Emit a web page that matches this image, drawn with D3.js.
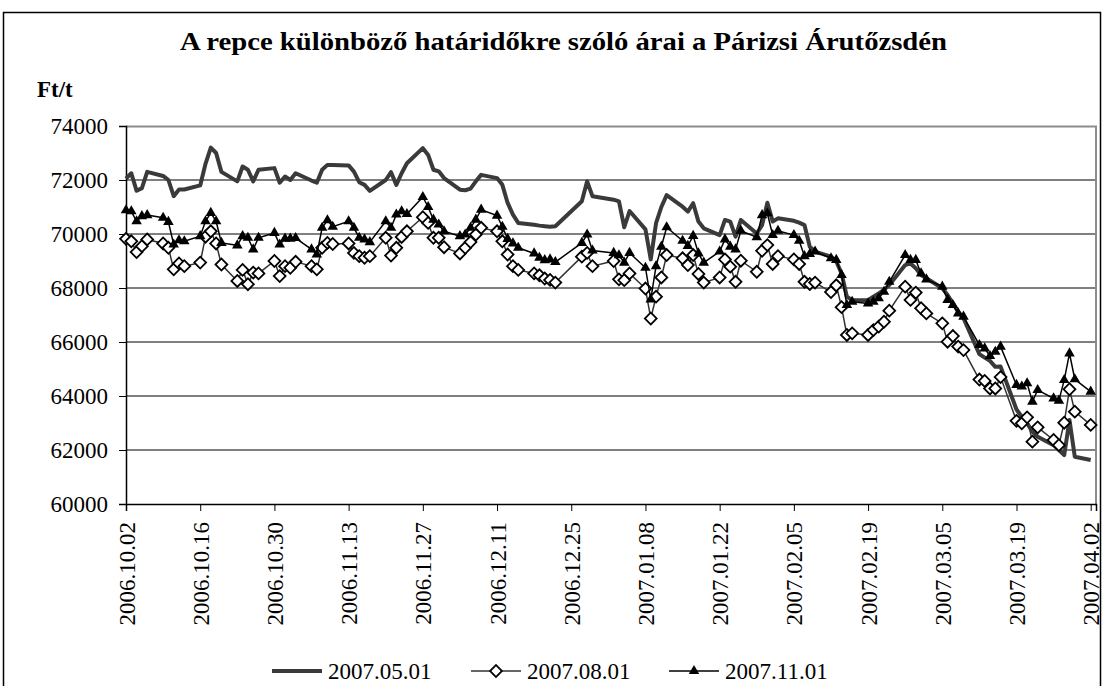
<!DOCTYPE html>
<html>
<head>
<meta charset="utf-8">
<script src="https://cdn.jsdelivr.net/npm/d3@7"></script>
<style>
  body { margin: 0; background: #fff; }
</style>
</head>
<body>
<svg width="1103" height="686" font-family="'Liberation Serif', 'Times New Roman', serif"></svg>
<script>
// trading days (Euronext, weekdays without holidays)
var dates = [
  "2006.10.02","2006.10.03","2006.10.04","2006.10.05","2006.10.06",
  "2006.10.09","2006.10.10","2006.10.11","2006.10.12","2006.10.13",
  "2006.10.16","2006.10.17","2006.10.18","2006.10.19","2006.10.20",
  "2006.10.23","2006.10.24","2006.10.25","2006.10.26","2006.10.27",
  "2006.10.30","2006.10.31","2006.11.01","2006.11.02","2006.11.03",
  "2006.11.06","2006.11.07","2006.11.08","2006.11.09","2006.11.10",
  "2006.11.13","2006.11.14","2006.11.15","2006.11.16","2006.11.17",
  "2006.11.20","2006.11.21","2006.11.22","2006.11.23","2006.11.24",
  "2006.11.27","2006.11.28","2006.11.29","2006.11.30","2006.12.01",
  "2006.12.04","2006.12.05","2006.12.06","2006.12.07","2006.12.08",
  "2006.12.11","2006.12.12","2006.12.13","2006.12.14","2006.12.15",
  "2006.12.18","2006.12.19","2006.12.20","2006.12.21","2006.12.22",
  "2006.12.27","2006.12.28","2006.12.29",
  "2007.01.02","2007.01.03","2007.01.04","2007.01.05",
  "2007.01.08","2007.01.09","2007.01.10","2007.01.11","2007.01.12",
  "2007.01.15","2007.01.16","2007.01.17","2007.01.18","2007.01.19",
  "2007.01.22","2007.01.23","2007.01.24","2007.01.25","2007.01.26",
  "2007.01.29","2007.01.30","2007.01.31","2007.02.01","2007.02.02",
  "2007.02.05","2007.02.06","2007.02.07","2007.02.08","2007.02.09",
  "2007.02.12","2007.02.13","2007.02.14","2007.02.15","2007.02.16",
  "2007.02.19","2007.02.20","2007.02.21","2007.02.22","2007.02.23",
  "2007.02.26","2007.02.27","2007.02.28","2007.03.01","2007.03.02",
  "2007.03.05","2007.03.06","2007.03.07","2007.03.08","2007.03.09",
  "2007.03.12","2007.03.13","2007.03.14","2007.03.15","2007.03.16",
  "2007.03.19","2007.03.20","2007.03.21","2007.03.22","2007.03.23",
  "2007.03.26","2007.03.27","2007.03.28","2007.03.29","2007.03.30",
  "2007.04.02"
];

// 2007.05.01 contract (Ft/t)
var may07 = [
  72050,72250,71600,71700,72300, 72150,72000,71400,71650,71650,
  71800,72600,73200,73000,72300, 71950,72500,72380,71950,72380,
  72440,71900,72130,72000,72250, 71980,71900,72380,72560,72560,
  72540,72310,71920,71820,71600, 72000,72290,71820,72250,72620,
  73180,72930,72380,72320,72070, 71640,71620,71680,71950,72190,
  72070,71820,71150,70720,70410, 70340,70310,70290,70270,70290,
  71210,71950,71400, 71270,71210,70250,70850,
  70170,69060,70400,71000,71440, 71010,70830,71140,70460,70210,
  69960,70520,70460,69900,70520, 70020,70330,71160,70460,70580,
  70490,70420,70330,69530,69350, 69160,68980,68540,67680,67550,
  67550,67680,67800,67930,68110, 68850,68910,68730,68480,68360,
  67990,67740,67430,67120,66880, 65550,65420,65300,65080,65090,
  63500,63230,62990,62680,62490, 62180,62000,61810,63110,61750,
  61630
];

// 2007.08.01 contract (Ft/t)
var aug07 = [
  69820,69730,69330,69550,69800, 69650,69490,68690,68910,68810,
  68940,69900,70100,69650,68870, 68260,68670,68140,68570,68540,
  69000,68440,68810,68750,68970, 68810,68690,69490,69670,69630,
  69650,69300,69180,69120,69180, 69860,69200,69490,69890,70100,
  70620,70410,69860,69860,69510, 69280,69490,69700,69980,70230,
  70100,69730,69240,68810,68670, 68540,68470,68350,68300,68200,
  69160,69300,68810, 69000,68320,68290,68540,
  67980,66870,67680,68390,69220, 69100,68850,69220,68520,68200,
  68390,69060,68790,68230,69010, 68600,69380,69590,68890,69180,
  69060,68890,68230,68150,68200, 67850,68100,67290,66260,66320,
  66260,66440,66570,66750,67160, 68050,67560,67830,67250,67060,
  66690,66010,66220,65830,65700, 64610,64560,64280,64280,64700,
  63080,62990,63210,62310,62840, 62370,62180,63010,64250,63420,
  62930
];

// 2007.11.01 contract (Ft/t)
var nov07 = [
  70880,70840,70470,70660,70700, 70600,70450,69610,69770,69730,
  69920,70470,70780,70470,69670, 69580,69920,69860,69430,69860,
  70040,69610,69830,69830,69850, 69430,69240,70230,70510,70270,
  70470,70230,69860,69800,69700, 70470,70230,70720,70840,70740,
  71370,71000,70530,70350,70100, 69920,69980,70230,70530,70900,
  70680,70270,69820,69650,69490, 69280,69120,69030,69060,68960,
  69670,69980,69390, 69300,69210,68940,69300,
  68750,67580,68810,69530,70250, 69750,69560,69930,69280,68940,
  69350,69800,69530,69430,70120, 69880,70700,70770,69960,70120,
  69960,69750,69180,69260,69350, 69100,69040,68480,67370,67490,
  67430,67490,67620,67860,68230, 69220,69040,69040,68540,68320,
  68050,67560,67370,67060,66940, 65890,65765,65480,65640,65830,
  64410,64350,64470,63790,64220, 63910,63830,64590,65580,64620,
  64160
];

var seriesNames = ["2007.05.01", "2007.08.01", "2007.11.01"];
var tickDates = [
  "2006.10.02","2006.10.16","2006.10.30","2006.11.13","2006.11.27",
  "2006.12.11","2006.12.25","2007.01.08","2007.01.22","2007.02.05",
  "2007.02.19","2007.03.05","2007.03.19","2007.04.02"
];
var yTicks = [60000, 62000, 64000, 66000, 68000, 70000, 72000, 74000];

var title = "A repce különböző határidőkre szóló árai a Párizsi Árutőzsdén";
var unitLabel = "Ft/t";

var serif = "'Liberation Serif', 'Times New Roman', serif";
var parse = d3.utcParse("%Y.%m.%d");

var svg = d3.select("svg"),
    margin = {top: 126, left: 126},
    plotW = 970,
    plotH = 378;

// outer frame
svg.append("rect")
    .attr("x", 3.5).attr("y", 12.5)
    .attr("width", 1097).attr("height", 700)
    .attr("fill", "none").attr("stroke", "#000").attr("stroke-width", 1.5);

svg.append("text")
    .attr("x", 180).attr("y", 50)
    .attr("textLength", 767)
    .attr("lengthAdjust", "spacingAndGlyphs")
    .style("font-family", serif)
    .style("font-size", "26px").style("font-weight", "bold")
    .text(title);

svg.append("text")
    .attr("x", 37).attr("y", 97)
    .style("font-family", serif)
    .style("font-size", "23px").style("font-weight", "bold")
    .text(unitLabel);

var x = d3.scaleUtc()
    .domain([parse("2006.10.02"), d3.utcDay.offset(parse("2007.04.02"), 1)])
    .range([0, plotW]);

var y = d3.scaleLinear()
    .domain([60000, 74000])
    .range([plotH, 0]);

var g = svg.append("g").attr("transform", "translate(" + margin.left + "," + margin.top + ")");

// gridlines
g.selectAll(".grid")
    .data(yTicks.filter(function(d) { return d > 60000 && d < 74000; }))
  .enter().append("line")
    .attr("x1", 0).attr("x2", plotW)
    .attr("y1", function(d) { return y(d); })
    .attr("y2", function(d) { return y(d); })
    .attr("stroke", "#000").attr("stroke-width", 1);

// plot area border (top and right, gray)
g.append("path")
    .attr("d", "M0,0.5H" + plotW + "V" + plotH)
    .attr("fill", "none").attr("stroke", "#8c8c8c").attr("stroke-width", 2);

// Y axis
var yAxis = g.append("g")
    .call(d3.axisLeft(y).tickValues(yTicks).tickSize(7).tickPadding(11).tickFormat(d3.format("d")));
yAxis.attr("font-family", serif);
yAxis.select(".domain").attr("stroke", "#000").attr("stroke-width", 1.5);
yAxis.selectAll("text").style("font-family", serif).style("font-size", "23px");

// X axis
var xAxis = g.append("g")
    .attr("transform", "translate(0," + plotH + ")")
    .call(d3.axisBottom(x).tickValues(tickDates.map(parse)).tickSize(7).tickFormat(d3.utcFormat("%Y.%m.%d")));
xAxis.attr("font-family", serif);
xAxis.select(".domain").attr("stroke", "#000").attr("stroke-width", 1.5);
xAxis.selectAll("text")
    .style("font-family", serif)
    .style("font-size", "23px")
    .style("text-anchor", "end")
    .attr("y", 0)
    .attr("dy", "0.35em")
    .attr("transform", "translate(0,18) rotate(-90)");

var rows = dates.map(function(d, i) {
    return {date: parse(d), s0: may07[i], s1: aug07[i], s2: nov07[i]};
});

function lineFor(key) {
    return d3.line()
        .x(function(d) { return x(d.date); })
        .y(function(d) { return y(d[key]); });
}

// 2007.05.01 thick line
g.append("path")
    .datum(rows)
    .attr("fill", "none")
    .attr("stroke", "#3a3a3a")
    .attr("stroke-width", 4)
    .attr("stroke-linejoin", "round")
    .attr("d", lineFor("s0"));

// 2007.08.01 with open diamonds
g.append("path")
    .datum(rows)
    .attr("fill", "none")
    .attr("stroke", "#333")
    .attr("stroke-width", 1.5)
    .attr("d", lineFor("s1"));

var diamond = d3.symbol().type(d3.symbolSquare).size(70);
var triangle = d3.symbol().type(d3.symbolTriangle).size(48);

g.selectAll(".dia")
    .data(rows)
  .enter().append("path")
    .attr("class", "dia")
    .attr("d", diamond)
    .attr("transform", function(d) { return "translate(" + x(d.date) + "," + y(d.s1) + ") rotate(45)"; })
    .attr("fill", "#fff").attr("stroke", "#000").attr("stroke-width", 1.8);

// 2007.11.01 with filled triangles
g.append("path")
    .datum(rows)
    .attr("fill", "none")
    .attr("stroke", "#000")
    .attr("stroke-width", 1.5)
    .attr("d", lineFor("s2"));

g.selectAll(".tri")
    .data(rows)
  .enter().append("path")
    .attr("class", "tri")
    .attr("d", triangle)
    .attr("transform", function(d) { return "translate(" + x(d.date) + "," + y(d.s2) + ")"; })
    .attr("fill", "#000");

// legend
var legend = svg.append("g").attr("transform", "translate(0,671)");
var legendX = [272, 471, 669];

legendX.forEach(function(lx, i) {
    var item = legend.append("g").attr("transform", "translate(" + lx + ",0)");
    item.append("line")
        .attr("x1", 0).attr("x2", 50)
        .attr("stroke", i === 0 ? "#3a3a3a" : (i === 1 ? "#333" : "#000"))
        .attr("stroke-width", i === 0 ? 4 : 1.5);
    if (i === 1) {
        item.append("path").attr("d", diamond)
            .attr("transform", "translate(25,0) rotate(45)")
            .attr("fill", "#fff").attr("stroke", "#000").attr("stroke-width", 1.8);
    }
    if (i === 2) {
        item.append("path").attr("d", triangle)
            .attr("transform", "translate(25,0)")
            .attr("fill", "#000");
    }
    item.append("text")
        .attr("x", 56).attr("y", 8)
        .style("font-family", serif)
        .style("font-size", "23px")
        .text(seriesNames[i]);
});
</script>
</body>
</html>
